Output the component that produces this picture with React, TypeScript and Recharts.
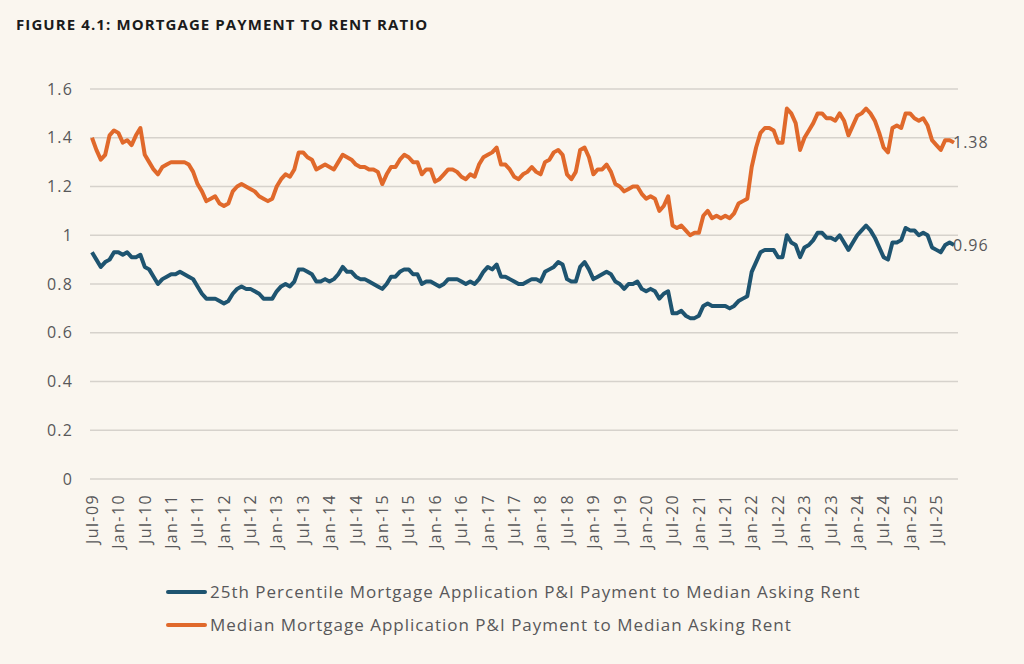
import React from "react";
import { LineChart, Line, XAxis, YAxis, CartesianGrid, Legend } from "recharts";

// monthly series, Jul-09 through Nov-25
const p25Ratio = [
  0.93, 0.9, 0.87, 0.89, 0.9, 0.93, 0.93, 0.92, 0.93, 0.91, 0.91, 0.92,
  0.87, 0.86, 0.83, 0.8, 0.82, 0.83, 0.84, 0.84, 0.85, 0.84, 0.83, 0.82,
  0.79, 0.76, 0.74, 0.74, 0.74, 0.73, 0.72, 0.73, 0.76, 0.78, 0.79, 0.78,
  0.78, 0.77, 0.76, 0.74, 0.74, 0.74, 0.77, 0.79, 0.8, 0.79, 0.81, 0.86,
  0.86, 0.85, 0.84, 0.81, 0.81, 0.82, 0.81, 0.82, 0.84, 0.87, 0.85, 0.85,
  0.83, 0.82, 0.82, 0.81, 0.8, 0.79, 0.78, 0.8, 0.83, 0.83, 0.85, 0.86,
  0.86, 0.84, 0.84, 0.8, 0.81, 0.81, 0.8, 0.79, 0.8, 0.82, 0.82, 0.82,
  0.81, 0.8, 0.81, 0.8, 0.82, 0.85, 0.87, 0.86, 0.88, 0.83, 0.83, 0.82,
  0.81, 0.8, 0.8, 0.81, 0.82, 0.82, 0.81, 0.85, 0.86, 0.87, 0.89, 0.88,
  0.82, 0.81, 0.81, 0.87, 0.89, 0.86, 0.82, 0.83, 0.84, 0.85, 0.84, 0.81,
  0.8, 0.78, 0.8, 0.8, 0.81, 0.78, 0.77, 0.78, 0.77, 0.74, 0.76, 0.77,
  0.68, 0.68, 0.69, 0.67, 0.66, 0.66, 0.67, 0.71, 0.72, 0.71, 0.71, 0.71,
  0.71, 0.7, 0.71, 0.73, 0.74, 0.75, 0.85, 0.89, 0.93, 0.94, 0.94, 0.94,
  0.91, 0.91, 1.0, 0.97, 0.96, 0.91, 0.95, 0.96, 0.98, 1.01, 1.01, 0.99,
  0.99, 0.98, 1.0, 0.97, 0.94, 0.97, 1.0, 1.02, 1.04, 1.02, 0.99, 0.95,
  0.91, 0.9, 0.97, 0.97, 0.98, 1.03, 1.02, 1.02, 1.0, 1.01, 1.0, 0.95,
  0.94, 0.93, 0.96, 0.97, 0.96,
];

const medianRatio = [
  1.4, 1.35, 1.31, 1.33, 1.41, 1.43, 1.42, 1.38, 1.39, 1.37, 1.41, 1.44,
  1.33, 1.3, 1.27, 1.25, 1.28, 1.29, 1.3, 1.3, 1.3, 1.3, 1.29, 1.26,
  1.21, 1.18, 1.14, 1.15, 1.16, 1.13, 1.12, 1.13, 1.18, 1.2, 1.21, 1.2,
  1.19, 1.18, 1.16, 1.15, 1.14, 1.15, 1.2, 1.23, 1.25, 1.24, 1.27, 1.34,
  1.34, 1.32, 1.31, 1.27, 1.28, 1.29, 1.28, 1.27, 1.3, 1.33, 1.32, 1.31,
  1.29, 1.28, 1.28, 1.27, 1.27, 1.26, 1.21, 1.25, 1.28, 1.28, 1.31, 1.33,
  1.32, 1.3, 1.3, 1.25, 1.27, 1.27, 1.22, 1.23, 1.25, 1.27, 1.27, 1.26,
  1.24, 1.23, 1.25, 1.24, 1.29, 1.32, 1.33, 1.34, 1.36, 1.29, 1.29, 1.27,
  1.24, 1.23, 1.25, 1.26, 1.28, 1.26, 1.25, 1.3, 1.31, 1.34, 1.35, 1.33,
  1.25, 1.23, 1.26, 1.35, 1.36, 1.32, 1.25, 1.27, 1.27, 1.29, 1.26, 1.21,
  1.2, 1.18, 1.19, 1.2, 1.2, 1.17, 1.15, 1.16, 1.15, 1.1, 1.12, 1.16,
  1.04, 1.03, 1.04, 1.02, 1.0, 1.01, 1.01, 1.08, 1.1, 1.07, 1.08, 1.07,
  1.08, 1.07, 1.09, 1.13, 1.14, 1.15, 1.28, 1.36, 1.42, 1.44, 1.44, 1.43,
  1.38, 1.38, 1.52, 1.5, 1.46, 1.35, 1.4, 1.43, 1.46, 1.5, 1.5, 1.48,
  1.48, 1.47, 1.5, 1.47, 1.41, 1.45, 1.49, 1.5, 1.52, 1.5, 1.47, 1.42,
  1.36, 1.34, 1.44, 1.45, 1.44, 1.5, 1.5, 1.48, 1.47, 1.48, 1.45, 1.39,
  1.37, 1.35, 1.39, 1.39, 1.38,
];

const MONTHS = ["Jan", "Feb", "Mar", "Apr", "May", "Jun", "Jul", "Aug", "Sep", "Oct", "Nov", "Dec"];
const months = medianRatio.map((_, i) => {
  const m = 6 + i;
  const yy = 9 + Math.floor(m / 12);
  return `${MONTHS[m % 12]}-${String(yy).padStart(2, "0")}`;
});

const yTicks = [0, 0.2, 0.4, 0.6, 0.8, 1, 1.2, 1.4, 1.6];

const P25_NAME = "25th Percentile Mortgage Application P&I Payment to Median Asking Rent";
const MEDIAN_NAME = "Median Mortgage Application P&I Payment to Median Asking Rent";

const BLUE = "#1e5470";
const ORANGE = "#e0692b";
const TEXT = "#58585a";
const FONT = "'Open Sans', Lato, sans-serif";

const data = months.map((month, i) => ({
  month,
  p25: p25Ratio[i],
  median: medianRatio[i],
}));

const LAST = data.length - 1;

const MonthTick = (props: any) => {
  const { x, y, payload } = props;
  return (
    <text
      x={x}
      y={y}
      transform={`rotate(-90 ${x} ${y})`}
      textAnchor="end"
      dy="0.36em"
      fill={TEXT}
      fontSize={16}
      fontFamily={FONT}
      letterSpacing={1.4}
    >
      {payload.value}
    </text>
  );
};

const endLabel = (props: any) => {
  const { x, y, index, value } = props;
  if (index !== LAST) return null;
  return (
    <text
      x={x - 1}
      y={y}
      dy="0.36em"
      fill={TEXT}
      fontSize={16}
      fontFamily={FONT}
      letterSpacing={1}
      textAnchor="start"
    >
      {value}
    </text>
  );
};

const LegendBox = () => {
  const rows = [
    { name: P25_NAME, color: BLUE },
    { name: MEDIAN_NAME, color: ORANGE },
  ];
  return (
    <div style={{ fontFamily: FONT, fontSize: 17, color: TEXT }}>
      {rows.map((r) => (
        <div key={r.name} style={{ display: "flex", alignItems: "center", height: 33 }}>
          <span
            style={{
              display: "inline-block",
              width: 41,
              height: 4,
              borderRadius: 2,
              background: r.color,
              marginRight: 3,
            }}
          />
          <span style={{ letterSpacing: 1, whiteSpace: "nowrap" }}>{r.name}</span>
        </div>
      ))}
    </div>
  );
};

export default function App() {
  return (
    <div
      style={{
        position: "absolute",
        left: 0,
        top: 0,
        width: 1024,
        height: 664,
        background: "#faf6ef",
        overflow: "hidden",
      }}
    >
      <div
        style={{
          position: "absolute",
          left: 16,
          top: 14,
          fontFamily: FONT,
          fontWeight: 700,
          fontSize: 15,
          letterSpacing: 1.1,
          color: "#1b1b1b",
        }}
      >
        FIGURE 4.1: MORTGAGE PAYMENT TO RENT RATIO
      </div>
      <LineChart
        width={1024}
        height={664}
        data={data}
        margin={{ top: 89, right: 66, bottom: 100, left: 0 }}
      >
        <CartesianGrid vertical={false} stroke="#d6d2cc" strokeWidth={1.5} />
        <XAxis
          dataKey="month"
          interval={5}
          tick={<MonthTick />}
          tickLine={false}
          axisLine={false}
          tickMargin={9}
          height={85}
          padding={{ left: 2, right: 4 }}
        />
        <YAxis
          domain={[0, 1.6]}
          ticks={yTicks}
          width={90}
          tickLine={false}
          axisLine={false}
          tickMargin={11}
          tick={{ fill: TEXT, fontSize: 16, fontFamily: FONT, letterSpacing: 1.2 }}
        />
        <Legend
          layout="vertical"
          align="center"
          verticalAlign="middle"
          wrapperStyle={{ top: 575, left: 166, width: "auto" }}
          content={<LegendBox />}
        />
        <Line
          type="linear"
          dataKey="median"
          name={MEDIAN_NAME}
          stroke={ORANGE}
          strokeWidth={4}
          dot={false}
          strokeLinejoin="round"
          isAnimationActive={false}
          label={endLabel}
        />
        <Line
          type="linear"
          dataKey="p25"
          name={P25_NAME}
          stroke={BLUE}
          strokeWidth={4}
          dot={false}
          strokeLinejoin="round"
          isAnimationActive={false}
          label={endLabel}
        />
      </LineChart>
    </div>
  );
}
